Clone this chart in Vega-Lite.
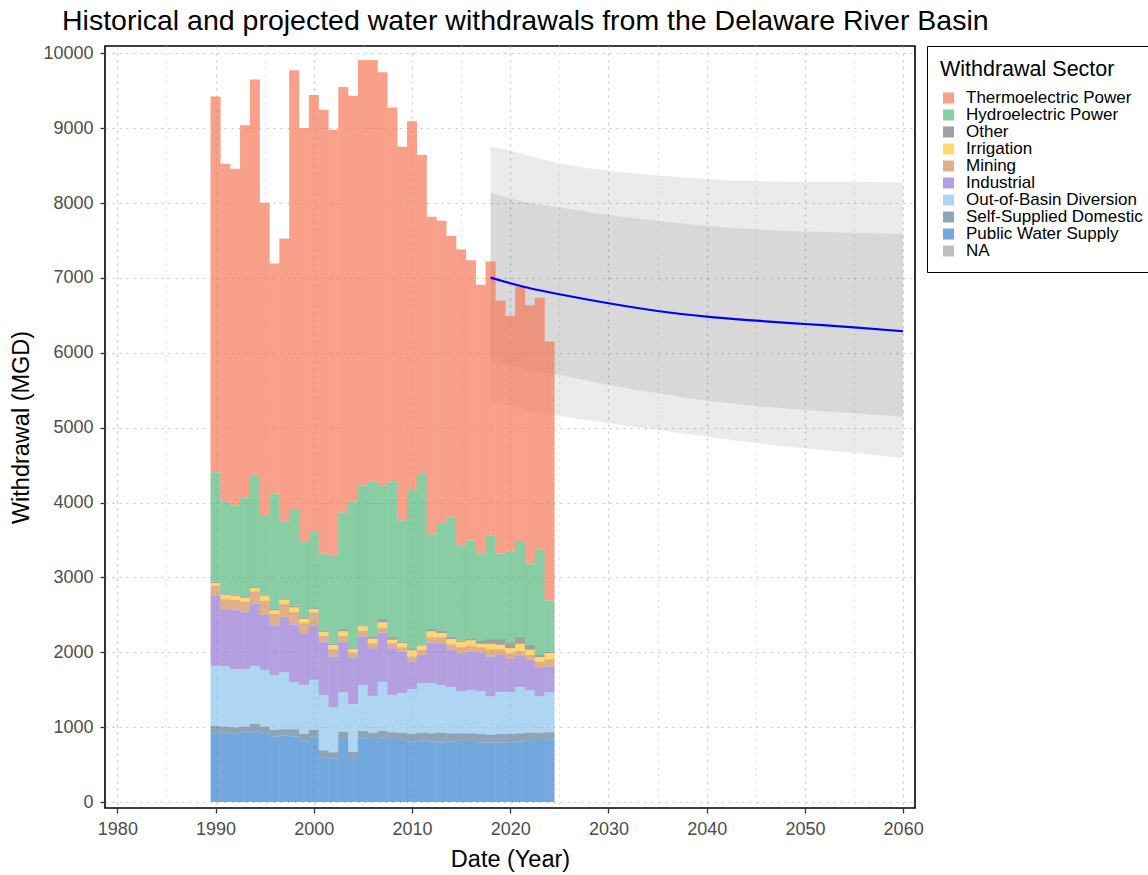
{
  "$schema": "https://vega.github.io/schema/vega-lite/v6.json",
  "width": 810,
  "height": 762,
  "autosize": {"type": "none"},
  "padding": {"left": 105, "top": 46, "right": 233, "bottom": 67},
  "background": "white",
  "title": {
    "text": "Historical and projected water withdrawals from the Delaware River Basin",
    "anchor": "start",
    "frame": "group",
    "dx": -43,
    "dy": 28,
    "offset": 14,
    "baseline": "alphabetic",
    "fontSize": 28.5,
    "fontWeight": "normal",
    "font": "Liberation Sans",
    "color": "#000000"
  },
  "datasets": {
    "hist": [
      {"year": 1990, "Thermoelectric Power": 5018, "Hydroelectric Power": 1462, "Other": 18, "Irrigation": 35, "Mining": 134, "Industrial": 936, "Out-of-Basin Diversion": 802, "Self-Supplied Domestic": 98, "Public Water Supply": 918},
      {"year": 1991, "Thermoelectric Power": 4519, "Hydroelectric Power": 1230, "Other": 9, "Irrigation": 58, "Mining": 133, "Industrial": 767, "Out-of-Basin Diversion": 802, "Self-Supplied Domestic": 80, "Public Water Supply": 927},
      {"year": 1992, "Thermoelectric Power": 4496, "Hydroelectric Power": 1195, "Other": 13, "Irrigation": 53, "Mining": 134, "Industrial": 793, "Out-of-Basin Diversion": 776, "Self-Supplied Domestic": 80, "Public Water Supply": 918},
      {"year": 1993, "Thermoelectric Power": 4969, "Hydroelectric Power": 1323, "Other": 18, "Irrigation": 49, "Mining": 133, "Industrial": 771, "Out-of-Basin Diversion": 767, "Self-Supplied Domestic": 80, "Public Water Supply": 927},
      {"year": 1994, "Thermoelectric Power": 5285, "Hydroelectric Power": 1493, "Other": 13, "Irrigation": 45, "Mining": 165, "Industrial": 829, "Out-of-Basin Diversion": 775, "Self-Supplied Domestic": 98, "Public Water Supply": 945},
      {"year": 1995, "Thermoelectric Power": 4176, "Hydroelectric Power": 1061, "Other": 13, "Irrigation": 67, "Mining": 187, "Industrial": 735, "Out-of-Basin Diversion": 758, "Self-Supplied Domestic": 89, "Public Water Supply": 918},
      {"year": 1996, "Thermoelectric Power": 3071, "Hydroelectric Power": 1546, "Other": 18, "Irrigation": 45, "Mining": 156, "Industrial": 663, "Out-of-Basin Diversion": 731, "Self-Supplied Domestic": 89, "Public Water Supply": 874},
      {"year": 1997, "Thermoelectric Power": 3784, "Hydroelectric Power": 1025, "Other": 17, "Irrigation": 58, "Mining": 174, "Industrial": 740, "Out-of-Basin Diversion": 757, "Self-Supplied Domestic": 85, "Public Water Supply": 887},
      {"year": 1998, "Thermoelectric Power": 5860, "Hydroelectric Power": 1293, "Other": 22, "Irrigation": 62, "Mining": 165, "Industrial": 776, "Out-of-Basin Diversion": 623, "Self-Supplied Domestic": 98, "Public Water Supply": 874},
      {"year": 1999, "Thermoelectric Power": 5522, "Hydroelectric Power": 1025, "Other": 13, "Irrigation": 53, "Mining": 134, "Industrial": 691, "Out-of-Basin Diversion": 655, "Self-Supplied Domestic": 102, "Public Water Supply": 807},
      {"year": 2000, "Thermoelectric Power": 5824, "Hydroelectric Power": 1030, "Other": 13, "Irrigation": 40, "Mining": 174, "Industrial": 731, "Out-of-Basin Diversion": 668, "Self-Supplied Domestic": 98, "Public Water Supply": 865},
      {"year": 2001, "Thermoelectric Power": 5927, "Hydroelectric Power": 1029, "Other": 18, "Irrigation": 54, "Mining": 75, "Industrial": 713, "Out-of-Basin Diversion": 740, "Self-Supplied Domestic": 90, "Public Water Supply": 600},
      {"year": 2002, "Thermoelectric Power": 5678, "Hydroelectric Power": 1190, "Other": 17, "Irrigation": 54, "Mining": 98, "Industrial": 682, "Out-of-Basin Diversion": 597, "Self-Supplied Domestic": 84, "Public Water Supply": 580},
      {"year": 2003, "Thermoelectric Power": 5682, "Hydroelectric Power": 1560, "Other": 31, "Irrigation": 58, "Mining": 75, "Industrial": 682, "Out-of-Basin Diversion": 522, "Self-Supplied Domestic": 98, "Public Water Supply": 842},
      {"year": 2004, "Thermoelectric Power": 5423, "Hydroelectric Power": 1957, "Other": 13, "Irrigation": 44, "Mining": 63, "Industrial": 628, "Out-of-Basin Diversion": 637, "Self-Supplied Domestic": 94, "Public Water Supply": 575},
      {"year": 2005, "Thermoelectric Power": 5682, "Hydroelectric Power": 1872, "Other": 13, "Irrigation": 58, "Mining": 76, "Industrial": 646, "Out-of-Basin Diversion": 615, "Self-Supplied Domestic": 98, "Public Water Supply": 851},
      {"year": 2006, "Thermoelectric Power": 5633, "Hydroelectric Power": 2076, "Other": 23, "Irrigation": 58, "Mining": 67, "Industrial": 637, "Out-of-Basin Diversion": 490, "Self-Supplied Domestic": 85, "Public Water Supply": 842},
      {"year": 2007, "Thermoelectric Power": 5517, "Hydroelectric Power": 1787, "Other": 44, "Irrigation": 67, "Mining": 72, "Industrial": 655, "Out-of-Basin Diversion": 655, "Self-Supplied Domestic": 89, "Public Water Supply": 860},
      {"year": 2008, "Thermoelectric Power": 4996, "Hydroelectric Power": 2076, "Other": 36, "Irrigation": 45, "Mining": 67, "Industrial": 628, "Out-of-Basin Diversion": 494, "Self-Supplied Domestic": 90, "Public Water Supply": 842},
      {"year": 2009, "Thermoelectric Power": 4992, "Hydroelectric Power": 1617, "Other": 23, "Irrigation": 53, "Mining": 58, "Industrial": 557, "Out-of-Basin Diversion": 526, "Self-Supplied Domestic": 98, "Public Water Supply": 829},
      {"year": 2010, "Thermoelectric Power": 4920, "Hydroelectric Power": 2130, "Other": 18, "Irrigation": 80, "Mining": 67, "Industrial": 370, "Out-of-Basin Diversion": 597, "Self-Supplied Domestic": 102, "Public Water Supply": 807},
      {"year": 2011, "Thermoelectric Power": 4260, "Hydroelectric Power": 2282, "Other": 13, "Irrigation": 54, "Mining": 67, "Industrial": 378, "Out-of-Basin Diversion": 660, "Self-Supplied Domestic": 107, "Public Water Supply": 820},
      {"year": 2012, "Thermoelectric Power": 4243, "Hydroelectric Power": 1266, "Other": 31, "Irrigation": 76, "Mining": 71, "Industrial": 543, "Out-of-Basin Diversion": 669, "Self-Supplied Domestic": 111, "Public Water Supply": 807},
      {"year": 2013, "Thermoelectric Power": 4037, "Hydroelectric Power": 1435, "Other": 36, "Irrigation": 54, "Mining": 80, "Industrial": 561, "Out-of-Basin Diversion": 633, "Self-Supplied Domestic": 134, "Public Water Supply": 793},
      {"year": 2014, "Thermoelectric Power": 3761, "Hydroelectric Power": 1587, "Other": 35, "Irrigation": 67, "Mining": 76, "Industrial": 503, "Out-of-Basin Diversion": 611, "Self-Supplied Domestic": 111, "Public Water Supply": 807},
      {"year": 2015, "Thermoelectric Power": 3953, "Hydroelectric Power": 1270, "Other": 18, "Irrigation": 71, "Mining": 80, "Industrial": 513, "Out-of-Basin Diversion": 557, "Self-Supplied Domestic": 102, "Public Water Supply": 816},
      {"year": 2016, "Thermoelectric Power": 3743, "Hydroelectric Power": 1310, "Other": 27, "Irrigation": 71, "Mining": 76, "Industrial": 513, "Out-of-Basin Diversion": 579, "Self-Supplied Domestic": 102, "Public Water Supply": 816},
      {"year": 2017, "Thermoelectric Power": 3591, "Hydroelectric Power": 1164, "Other": 40, "Irrigation": 44, "Mining": 71, "Industrial": 522, "Out-of-Basin Diversion": 566, "Self-Supplied Domestic": 116, "Public Water Supply": 793},
      {"year": 2018, "Thermoelectric Power": 3663, "Hydroelectric Power": 1381, "Other": 63, "Irrigation": 71, "Mining": 98, "Industrial": 535, "Out-of-Basin Diversion": 512, "Self-Supplied Domestic": 103, "Public Water Supply": 793},
      {"year": 2019, "Thermoelectric Power": 3382, "Hydroelectric Power": 1141, "Other": 76, "Irrigation": 58, "Mining": 76, "Industrial": 499, "Out-of-Basin Diversion": 557, "Self-Supplied Domestic": 116, "Public Water Supply": 793},
      {"year": 2020, "Thermoelectric Power": 3147, "Hydroelectric Power": 1225, "Other": 67, "Irrigation": 66, "Mining": 76, "Industrial": 441, "Out-of-Basin Diversion": 562, "Self-Supplied Domestic": 111, "Public Water Supply": 798},
      {"year": 2021, "Thermoelectric Power": 3409, "Hydroelectric Power": 1271, "Other": 89, "Irrigation": 89, "Mining": 71, "Industrial": 419, "Out-of-Basin Diversion": 615, "Self-Supplied Domestic": 111, "Public Water Supply": 807},
      {"year": 2022, "Thermoelectric Power": 3453, "Hydroelectric Power": 1083, "Other": 67, "Irrigation": 67, "Mining": 66, "Industrial": 410, "Out-of-Basin Diversion": 562, "Self-Supplied Domestic": 111, "Public Water Supply": 816},
      {"year": 2023, "Thermoelectric Power": 3365, "Hydroelectric Power": 1404, "Other": 31, "Irrigation": 58, "Mining": 76, "Industrial": 392, "Out-of-Basin Diversion": 481, "Self-Supplied Domestic": 98, "Public Water Supply": 829},
      {"year": 2024, "Thermoelectric Power": 3459, "Hydroelectric Power": 681, "Other": 22, "Irrigation": 81, "Mining": 98, "Industrial": 347, "Out-of-Basin Diversion": 530, "Self-Supplied Domestic": 94, "Public Water Supply": 838}
    ],
    "proj": [
      {"year": 2018, "fit": 7003, "hi80": 8138, "lo80": 5903, "hi95": 8753, "lo95": 5369},
      {"year": 2020, "fit": 6928, "hi80": 8063, "lo80": 5837, "hi95": 8700, "lo95": 5289},
      {"year": 2022, "fit": 6861, "hi80": 8000, "lo80": 5770, "hi95": 8628, "lo95": 5220},
      {"year": 2025, "fit": 6781, "hi80": 7943, "lo80": 5703, "hi95": 8530, "lo95": 5156},
      {"year": 2030, "fit": 6661, "hi80": 7840, "lo80": 5570, "hi95": 8432, "lo95": 5058},
      {"year": 2035, "fit": 6558, "hi80": 7764, "lo80": 5458, "hi95": 8366, "lo95": 4969},
      {"year": 2040, "fit": 6482, "hi80": 7693, "lo80": 5360, "hi95": 8321, "lo95": 4880},
      {"year": 2045, "fit": 6429, "hi80": 7649, "lo80": 5289, "hi95": 8294, "lo95": 4791},
      {"year": 2050, "fit": 6384, "hi80": 7618, "lo80": 5236, "hi95": 8285, "lo95": 4724},
      {"year": 2055, "fit": 6340, "hi80": 7604, "lo80": 5191, "hi95": 8285, "lo95": 4666},
      {"year": 2060, "fit": 6287, "hi80": 7586, "lo80": 5146, "hi95": 8277, "lo95": 4591}
    ]
  },
  "layer": [
    {
      "data": {"name": "proj"},
      "mark": {"type": "area", "color": "#000000", "opacity": 0.08, "interpolate": "monotone"},
      "encoding": {
        "x": {
          "field": "year", "type": "quantitative",
          "scale": {"domain": [1979.25, 2060.7], "nice": false, "zero": false},
          "axis": {
            "values": [1980, 1985, 1990, 1995, 2000, 2005, 2010, 2015, 2020, 2025, 2030, 2035, 2040, 2045, 2050, 2055, 2060],
            "labelExpr": "datum.value % 10 === 0 ? datum.label : ''",
            "format": "d",
            "title": "Date (Year)",
            "tickOpacity": {"condition": {"test": "datum.value % 10 === 0", "value": 1}, "value": 0},
            "gridColor": {"condition": {"test": "datum.value % 10 === 0", "value": "#c4c4c4"}, "value": "#dedede"}
          }
        },
        "y": {
          "field": "hi95", "type": "quantitative",
          "scale": {"domain": [-80, 10097], "nice": false, "zero": false},
          "axis": {
            "values": [0, 500, 1000, 1500, 2000, 2500, 3000, 3500, 4000, 4500, 5000, 5500, 6000, 6500, 7000, 7500, 8000, 8500, 9000, 9500, 10000],
            "labelExpr": "datum.value % 1000 === 0 ? datum.label : ''",
            "format": "d",
            "title": "Withdrawal (MGD)",
            "tickOpacity": {"condition": {"test": "datum.value % 1000 === 0", "value": 1}, "value": 0},
            "gridColor": {"condition": {"test": "datum.value % 1000 === 0", "value": "#c4c4c4"}, "value": "#dedede"}
          }
        },
        "y2": {"field": "lo95"}
      }
    },
    {
      "data": {"name": "proj"},
      "mark": {"type": "area", "color": "#000000", "opacity": 0.08, "interpolate": "monotone"},
      "encoding": {
        "x": {"field": "year", "type": "quantitative"},
        "y": {"field": "hi80", "type": "quantitative"},
        "y2": {"field": "lo80"}
      }
    },
    {
      "data": {"name": "hist"},
      "transform": [
        {"fold": ["Thermoelectric Power", "Hydroelectric Power", "Other", "Irrigation", "Mining", "Industrial", "Out-of-Basin Diversion", "Self-Supplied Domestic", "Public Water Supply"], "as": ["sector", "value"]},
        {"calculate": "indexof(['Thermoelectric Power', 'Hydroelectric Power', 'Other', 'Irrigation', 'Mining', 'Industrial', 'Out-of-Basin Diversion', 'Self-Supplied Domestic', 'Public Water Supply', 'NA'], datum.sector)", "as": "stackRank"}
      ],
      "mark": {"type": "bar", "width": 10, "opacity": 0.7},
      "encoding": {
        "x": {"field": "year", "type": "quantitative"},
        "y": {"field": "value", "type": "quantitative", "stack": "zero"},
        "order": {"field": "stackRank", "type": "quantitative", "sort": "descending"},
        "color": {
          "field": "sector", "type": "nominal",
          "scale": {
            "domain": ["Thermoelectric Power", "Hydroelectric Power", "Other", "Irrigation", "Mining", "Industrial", "Out-of-Basin Diversion", "Self-Supplied Domestic", "Public Water Supply", "NA"],
            "range": ["#f67759", "#55b87e", "#777777", "#fcc730", "#d38e58", "#9478d3", "#8bc5ec", "#5f7d94", "#3683d0", "#a2a2a2"]
          },
          "legend": {
            "title": "Withdrawal Sector",
            "orient": "none",
            "legendX": 822,
            "legendY": 0,
            "symbolType": "square",
            "symbolSize": 121,
            "symbolOpacity": 0.7,
            "symbolStrokeWidth": 0,
            "labelFontSize": 17,
            "labelLimit": 400,
            "labelColor": "#000000",
            "labelOffset": 9,
            "rowPadding": -2.3,
            "titleFontSize": 21.5,
            "titleFontWeight": "normal",
            "titleColor": "#000000",
            "titlePadding": 9,
            "padding": 13,
            "strokeColor": "#000000",
            "fillColor": "#ffffff",
            "cornerRadius": 0
          }
        }
      }
    },
    {
      "data": {"name": "proj"},
      "mark": {"type": "line", "color": "#0000ff", "strokeWidth": 2.2, "interpolate": "monotone"},
      "encoding": {
        "x": {"field": "year", "type": "quantitative"},
        "y": {"field": "fit", "type": "quantitative"}
      }
    },
    {
      "mark": {"type": "rule", "color": "#000000", "strokeWidth": 3, "strokeDash": [3, 9.5]},
      "encoding": {
        "x": {"datum": 2017.5}
      }
    }
  ],
  "config": {
    "font": "Liberation Sans",
    "view": {"stroke": "#000000", "strokeWidth": 1.6},
    "axis": {
      "domain": false,
      "grid": true,
      "gridDash": [2, 5],
      "gridWidth": 1.2,
      "tickColor": "#333333",
      "tickSize": 5,
      "tickWidth": 1.3,
      "labelColor": "#4d4d4d",
      "labelFontSize": 18,
      "labelFont": "Liberation Sans",
      "labelPadding": 7,
      "titleFontSize": 23.5,
      "titleFontWeight": "normal",
      "titleColor": "#000000",
      "titleFont": "Liberation Sans"
    },
    "axisY": {"titlePadding": 9},
    "axisX": {"titlePadding": 9},
    "legend": {"labelFont": "Liberation Sans", "titleFont": "Liberation Sans"}
  }
}
